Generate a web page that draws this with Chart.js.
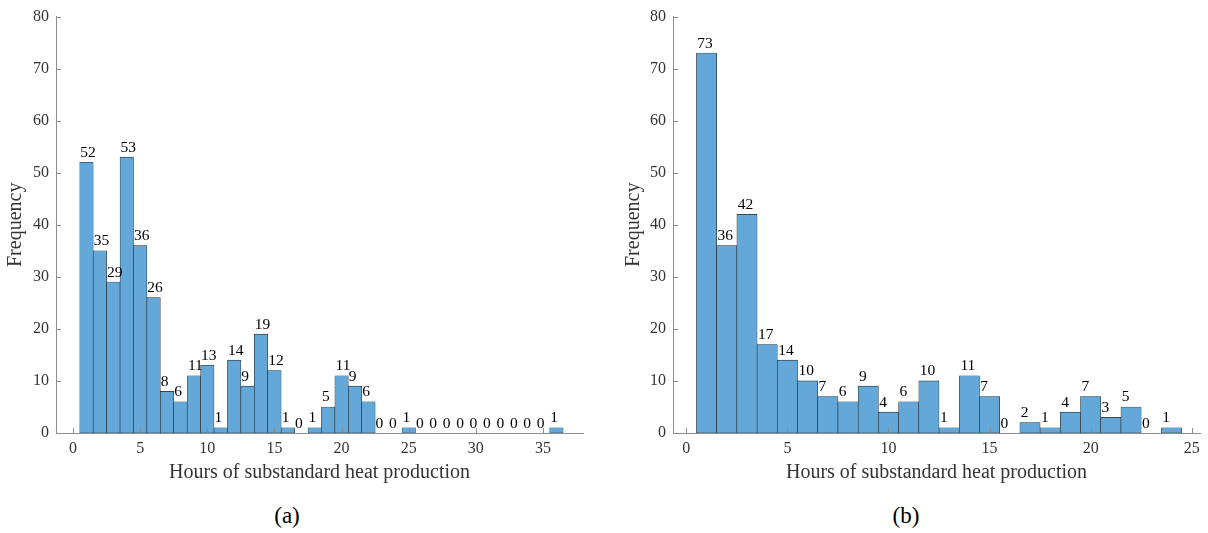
<!DOCTYPE html>
<html>
<head>
<meta charset="utf-8">
<script src="https://cdn.jsdelivr.net/npm/chart.js@4.4.1/dist/chart.umd.min.js"></script>
<style>
  html, body { margin: 0; padding: 0; background: #fff; }
  body { width: 1208px; height: 533px; position: relative; overflow: hidden; font-family: "Liberation Serif", serif; }
  canvas { position: absolute; top: 0; }
  .cap { position: absolute; top: 503px; font-size: 23px; color: #000; transform: translateX(-50%); }
</style>
</head>
<body>
<canvas id="chartA" width="604" height="490" style="left:0"></canvas>
<canvas id="chartB" width="604" height="490" style="left:604px"></canvas>
<div class="cap" style="left:287px">(a)</div>
<div class="cap" style="left:906px">(b)</div>

<script>
// --- DADES ---
const binsA = [1, 2, 3, 4, 5, 6, 7, 8, 9, 10, 11, 12, 13, 14, 15, 16, 17, 18,
  19, 20, 21, 22, 23, 24, 25, 26, 27, 28, 29, 30, 31, 32, 33, 34, 35, 36];
const countsA = [52, 35, 29, 53, 36, 26, 8, 6, 11, 13, 1, 14, 9, 19, 12, 1, 0, 1,
  5, 11, 9, 6, 0, 0, 1, 0, 0, 0, 0, 0, 0, 0, 0, 0, 0, 1];

const binsB = [1, 2, 3, 4, 5, 6, 7, 8, 9, 10, 11, 12, 13, 14, 15, 16, 17, 18,
  19, 20, 21, 22, 23, 24];
const countsB = [73, 36, 42, 17, 14, 10, 7, 6, 9, 4, 6, 10, 1, 11, 7, 0, 2, 1,
  4, 7, 3, 5, 0, 1];

const xTicksA = [0, 5, 10, 15, 20, 25, 30, 35];
const xTicksB = [0, 5, 10, 15, 20, 25];
const yTicks = [0, 10, 20, 30, 40, 50, 60, 70, 80];

const xTitle = "Hours of substandard heat production";
const yTitle = "Frequency";

const BAR_FILL = "#63a8d8";
const BAR_EDGE = "#262626";
const AXIS_COLOR = "#8c8c8c";
const TEXT_COLOR = "#333";
const FONT = '"Liberation Serif", serif';

// ticks cap a dins, dibuixats sobre les barres
const innerTicks = {
  id: "innerTicks",
  afterDatasetsDraw(chart) {
    const { ctx, chartArea: a, scales: { x, y } } = chart;
    ctx.save();
    ctx.strokeStyle = AXIS_COLOR;
    ctx.lineWidth = 1;
    ctx.beginPath();
    x.ticks.forEach((t) => {
      const px = Math.round(x.getPixelForValue(t.value)) + 0.5;
      ctx.moveTo(px, a.bottom);
      ctx.lineTo(px, a.bottom - 5);
    });
    y.ticks.forEach((t) => {
      const py = Math.round(y.getPixelForValue(t.value)) + 0.5;
      ctx.moveTo(a.left, py);
      ctx.lineTo(a.left + 5, py);
    });
    ctx.stroke();
    ctx.restore();
  },
};

// etiquetes amb el valor de cada barra
const barLabels = {
  id: "barLabels",
  afterDatasetsDraw(chart, args, opts) {
    const { ctx } = chart;
    const meta = chart.getDatasetMeta(0);
    const values = chart.data.datasets[0].data;
    ctx.save();
    ctx.font = "15.5px " + FONT;
    ctx.fillStyle = "#000";
    ctx.textAlign = "center";
    ctx.textBaseline = "alphabetic";
    meta.data.forEach((bar, i) => {
      const s = String(values[i].y);
      const shift = s.length < 2 ? ctx.measureText("0").width / 2 : 0;
      ctx.fillText(s, bar.x + opts.dx - shift, bar.y - 5.5);
    });
    ctx.restore();
  },
};

function makeHist(id, bins, counts, xTicks, cfg) {
  return new Chart(document.getElementById(id), {
    type: "bar",
    data: {
      datasets: [
        {
          data: bins.map((b, i) => ({ x: b, y: counts[i] })),
          backgroundColor: BAR_FILL,
          borderColor: BAR_EDGE,
          borderWidth: 0.6,
          borderSkipped: false,
          categoryPercentage: 1,
          barPercentage: 1,
        },
      ],
    },
    options: {
      responsive: false,
      animation: false,
      layout: { padding: { left: cfg.padLeft, right: cfg.padRight, top: 15, bottom: 0 } },
      scales: {
        x: {
          type: "linear",
          min: cfg.xMin,
          max: cfg.xMax,
          offset: false,
          grid: { display: false, drawTicks: false },
          border: { display: true, color: AXIS_COLOR, width: 1 },
          afterBuildTicks: (s) => { s.ticks = xTicks.map((v) => ({ value: v })); },
          afterFit: (s) => { s.height = 57; },
          ticks: { color: TEXT_COLOR, font: { family: FONT, size: 16 }, padding: 6, maxRotation: 0 },
          title: { display: true, text: xTitle, color: TEXT_COLOR, font: { family: FONT, size: 20 }, padding: { top: 0, bottom: 5 } },
        },
        y: {
          min: 0,
          max: 80,
          grid: { display: false, drawTicks: false },
          border: { display: true, color: AXIS_COLOR, width: 1 },
          afterBuildTicks: (s) => { s.ticks = yTicks.map((v) => ({ value: v })); },
          afterFit: (s) => { s.width = cfg.yWidth; },
          ticks: { color: TEXT_COLOR, font: { family: FONT, size: 16 }, padding: 7 },
          title: { display: true, text: yTitle, color: TEXT_COLOR, font: { family: FONT, size: 20 }, padding: { top: 4, bottom: 0 } },
        },
      },
      plugins: {
        legend: { display: false },
        tooltip: { enabled: false },
        barLabels: { dx: cfg.dx },
      },
    },
    plugins: [innerTicks, barLabels],
  });
}

makeHist("chartA", binsA, countsA, xTicksA, {
  xMin: -1.27, xMax: 37.98, padLeft: 0, padRight: 21, yWidth: 56, dx: 1.5,
});
makeHist("chartB", binsB, countsB, xTicksB, {
  xMin: -0.66, xMax: 25.41, padLeft: 14, padRight: 8, yWidth: 55, dx: -1.5,
});
</script>
</body>
</html>
